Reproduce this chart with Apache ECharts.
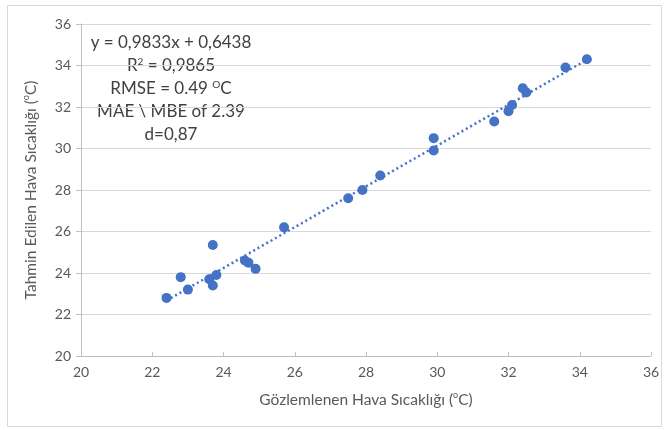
<!DOCTYPE html>
<html>
<head>
<meta charset="utf-8">
<script src="https://cdn.jsdelivr.net/npm/echarts@6/dist/echarts.min.js"></script>
<style>html,body{margin:0;padding:0;background:#fff;}#c{width:669px;height:430px;}</style>
</head>
<body>
<div id="c"></div>
<script>
var observed = [22.4, 22.8, 23.0, 23.7, 23.6, 23.7, 23.8, 24.6, 24.7, 24.9, 25.7, 27.5, 27.9, 28.4, 29.9, 29.9, 31.6, 32.0, 32.1, 32.4, 32.5, 33.6, 34.2];
var predicted = [22.8, 23.8, 23.2, 25.35, 23.7, 23.4, 23.9, 24.6, 24.5, 24.2, 26.2, 27.6, 28.0, 28.7, 30.5, 29.9, 31.3, 31.8, 32.1, 32.9, 32.7, 33.9, 34.3];
var slope = 0.9833, intercept = 0.6438;
var trendX = [22.4, 34.2];
var axisTicks = [20, 22, 24, 26, 28, 30, 32, 34, 36];
var statLines = ['y = 0,9833x + 0,6438', 'R{sup|2} = 0,9865', 'RMSE = 0.49 {sup|O}C', 'MAE \\ MBE of 2.39', 'd=0,87'];

var pts = observed.map(function (x, i) { return [x, predicted[i]]; });
var trend = trendX.map(function (x) { return [x, slope * x + intercept]; });
var font = 'Lato, "Open Sans", sans-serif';
var supStyle = { fontSize: 10, verticalAlign: 'top', padding: [0, 0, 9, 0], fill: '#404040', fontFamily: font };
var graphics = [
  { type: 'rect', shape: { x: 7.5, y: 5.5, width: 654, height: 421 }, style: { fill: 'none', stroke: '#d9d9d9', lineWidth: 1 }, z: -1 }
];
statLines.forEach(function (t, i) {
  graphics.push({
    type: 'text', x: 171, y: 43 + i * 23,
    style: { text: t, align: 'center', textAlign: 'center', verticalAlign: 'middle', textVerticalAlign: 'middle',
      font: '17px ' + font, fill: '#404040', rich: { sup: supStyle } }
  });
});
var chart = echarts.init(document.getElementById('c'));
chart.setOption({
  animation: false,
  backgroundColor: '#fff',
  grid: { left: 81, right: 18, top: 24, bottom: 74 },
  graphic: graphics,
  xAxis: {
    type: 'value', min: 20, max: 36, interval: 2,
    name: 'Gözlemlenen Hava Sıcaklığı ({sup|o}C)', nameLocation: 'middle', nameGap: 35,
    nameTextStyle: { fontSize: 15.5, color: '#595959', fontFamily: font, rich: { sup: { fontSize: 9, verticalAlign: 'top', padding: [0, 0, 8, 0], color: '#595959' } } },
    axisLine: { lineStyle: { color: '#bfbfbf' } },
    axisTick: { show: true, inside: true, length: 4, lineStyle: { color: '#bfbfbf' } },
    axisLabel: { color: '#595959', fontSize: 14, fontFamily: font, margin: 9 },
    splitLine: { show: false }
  },
  yAxis: {
    type: 'value', min: 20, max: 36, interval: 2,
    name: 'Tahmin Edilen Hava Sıcaklığı ({sup|o}C)', nameLocation: 'middle', nameGap: 42, nameRotate: 90,
    nameTextStyle: { fontSize: 15.5, color: '#595959', fontFamily: font, rich: { sup: { fontSize: 9, verticalAlign: 'top', padding: [0, 0, 8, 0], color: '#595959' } } },
    axisLine: { show: true, lineStyle: { color: '#bfbfbf' } },
    axisTick: { show: true, length: 5, lineStyle: { color: '#bfbfbf' } },
    axisLabel: { color: '#595959', fontSize: 14, fontFamily: font, margin: 10 },
    splitLine: { show: true, lineStyle: { color: '#d9d9d9' } }
  },
  series: [
    { type: 'line', data: trend, symbol: 'none', lineStyle: { color: '#4472c4', width: 2.5, type: [2, 3] }, z: 1 },
    { type: 'scatter', data: pts, symbolSize: 10, itemStyle: { color: '#4472c4', opacity: 1 }, z: 2 }
  ]
});
</script>
</body>
</html>
